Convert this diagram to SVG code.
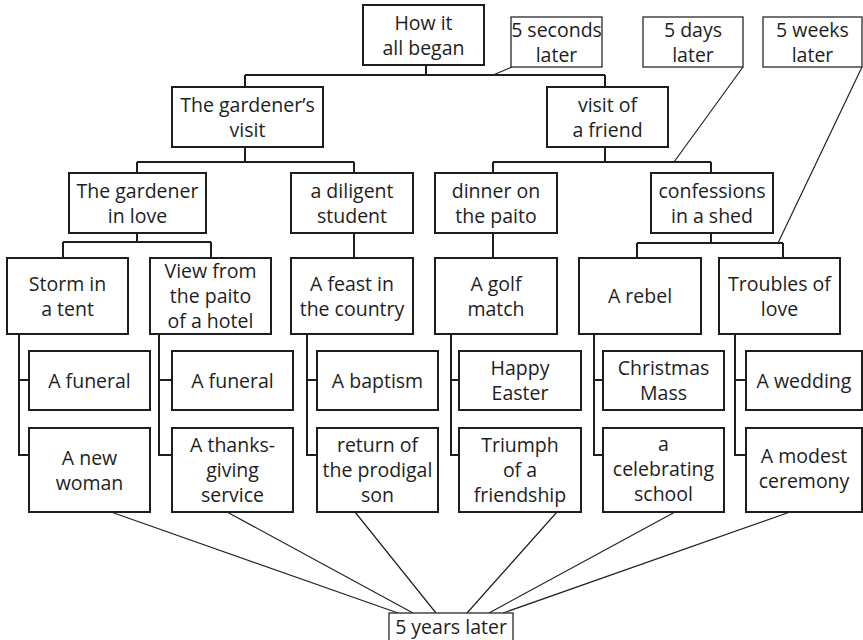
<svg xmlns="http://www.w3.org/2000/svg" width="863" height="640" viewBox="0 0 863 640">
  <style>
    .box { fill: #fff; stroke: #1e1e1e; stroke-width: 2; }
    .note { fill: #fff; stroke: #2a2a2a; stroke-width: 1.3; }
    .lbl { font-family: "Open Sans", "Noto Sans", sans-serif; font-size: 19.5px; fill: #1e1e1e; text-anchor: middle; }
    .tree { fill: none; stroke: #1e1e1e; stroke-width: 2; }
    .thin { fill: none; stroke: #222; stroke-width: 1.2; }
  </style>
  <rect width="863" height="640" fill="#fff"/>

  <!-- connectors -->
  <g id="connectors">
    <path class="tree" d="M426 65V75M245 75H605M245 75V87M605 75V87"/>
    <path class="tree" d="M245 147V162M137 162H354M137 162V173M354 162V173"/>
    <path class="tree" d="M605 147V162M493 162H711M493 162V173M711 162V173"/>
    <path class="tree" d="M137 233V242M63 242H211M63 242V258M211 242V258"/>
    <path class="tree" d="M354 233V258M493 233V258"/>
    <path class="tree" d="M711 233V243M637 243H783M637 243V258M783 243V258"/>
    <path class="tree" d="M19 334V455H29M19 380H29"/>
    <path class="tree" d="M159 334V455H172M159 380H172"/>
    <path class="tree" d="M307 334V455H317M307 380H317"/>
    <path class="tree" d="M451 334V455H459M451 380H459"/>
    <path class="tree" d="M594 334V455H603M594 380H603"/>
    <path class="tree" d="M735 334V455H746M735 380H746"/>
    <path class="thin" d="M512 67L493 75M743 67L674 162M862 67L778 243"/>
    <path class="thin" d="M111 512L398 613M227 512L413 613M355 512L436 613M557 512L467 613M675 512L489 613M790 512L503 613"/>
  </g>

  <!-- time notes -->
  <g id="n-5sec"><rect class="note" x="511" y="17" width="91" height="50"/>
    <text class="lbl" x="556.5" y="36.5">5 seconds</text><text class="lbl" x="556.5" y="61.5">later</text></g>
  <g id="n-5days"><rect class="note" x="643" y="17" width="100" height="50"/>
    <text class="lbl" x="693" y="36.5">5 days</text><text class="lbl" x="693" y="61.5">later</text></g>
  <g id="n-5weeks"><rect class="note" x="763" y="17" width="99" height="50"/>
    <text class="lbl" x="812.5" y="36.5">5 weeks</text><text class="lbl" x="812.5" y="61.5">later</text></g>
  <g id="n-5years"><rect class="note" x="389" y="613" width="124" height="40"/>
    <text class="lbl" x="451" y="634">5 years later</text></g>

  <!-- level 1 -->
  <g id="how"><rect class="box" x="363" y="5" width="121" height="60"/>
    <text class="lbl" x="423.5" y="29.5">How it</text><text class="lbl" x="423.5" y="54.5">all began</text></g>

  <!-- level 2 -->
  <g id="gvisit"><rect class="box" x="172" y="87" width="151" height="60"/>
    <text class="lbl" x="247.5" y="111.5">The gardener’s</text><text class="lbl" x="247.5" y="136.5">visit</text></g>
  <g id="friend"><rect class="box" x="547" y="87" width="121" height="60"/>
    <text class="lbl" x="607.5" y="111.5">visit of</text><text class="lbl" x="607.5" y="136.5">a friend</text></g>

  <!-- level 3 -->
  <g id="glove"><rect class="box" x="69" y="173" width="137" height="60"/>
    <text class="lbl" x="137.5" y="197.5">The gardener</text><text class="lbl" x="137.5" y="222.5">in love</text></g>
  <g id="student"><rect class="box" x="291" y="173" width="122" height="60"/>
    <text class="lbl" x="352" y="197.5">a diligent</text><text class="lbl" x="352" y="222.5">student</text></g>
  <g id="dinner"><rect class="box" x="435" y="173" width="122" height="60"/>
    <text class="lbl" x="496" y="197.5">dinner on</text><text class="lbl" x="496" y="222.5">the paito</text></g>
  <g id="shed"><rect class="box" x="651" y="173" width="122" height="60"/>
    <text class="lbl" x="712" y="197.5">confessions</text><text class="lbl" x="712" y="222.5">in a shed</text></g>

  <!-- level 4 -->
  <g id="storm"><rect class="box" x="7" y="258" width="121" height="76"/>
    <text class="lbl" x="67.5" y="290.5">Storm in</text><text class="lbl" x="67.5" y="315.5">a tent</text></g>
  <g id="view"><rect class="box" x="150" y="258" width="121" height="76"/>
    <text class="lbl" x="210.5" y="278">View from</text><text class="lbl" x="210.5" y="303">the paito</text><text class="lbl" x="210.5" y="328">of a hotel</text></g>
  <g id="feast"><rect class="box" x="291" y="258" width="122" height="76"/>
    <text class="lbl" x="352" y="290.5">A feast in</text><text class="lbl" x="352" y="315.5">the country</text></g>
  <g id="golf"><rect class="box" x="435" y="258" width="122" height="76"/>
    <text class="lbl" x="496" y="290.5">A golf</text><text class="lbl" x="496" y="315.5">match</text></g>
  <g id="rebel"><rect class="box" x="579" y="258" width="122" height="76"/>
    <text class="lbl" x="640" y="303">A rebel</text></g>
  <g id="troubles"><rect class="box" x="719" y="258" width="121" height="76"/>
    <text class="lbl" x="779.5" y="290.5">Troubles of</text><text class="lbl" x="779.5" y="315.5">love</text></g>

  <!-- level 5 -->
  <g id="funeral1"><rect class="box" x="29" y="351" width="121" height="59"/>
    <text class="lbl" x="89.5" y="387.5">A funeral</text></g>
  <g id="woman"><rect class="box" x="29" y="428" width="121" height="84"/>
    <text class="lbl" x="89.5" y="464.5">A new</text><text class="lbl" x="89.5" y="489.5">woman</text></g>
  <g id="funeral2"><rect class="box" x="172" y="351" width="121" height="59"/>
    <text class="lbl" x="232.5" y="387.5">A funeral</text></g>
  <g id="thanks"><rect class="box" x="172" y="428" width="121" height="84"/>
    <text class="lbl" x="232.5" y="452">A thanks-</text><text class="lbl" x="232.5" y="477">giving</text><text class="lbl" x="232.5" y="502">service</text></g>
  <g id="baptism"><rect class="box" x="317" y="351" width="121" height="59"/>
    <text class="lbl" x="377.5" y="387.5">A baptism</text></g>
  <g id="prodigal"><rect class="box" x="317" y="428" width="121" height="84"/>
    <text class="lbl" x="377.5" y="452">return of</text><text class="lbl" x="377.5" y="477">the prodigal</text><text class="lbl" x="377.5" y="502">son</text></g>
  <g id="easter"><rect class="box" x="459" y="351" width="122" height="59"/>
    <text class="lbl" x="520" y="375">Happy</text><text class="lbl" x="520" y="400">Easter</text></g>
  <g id="friendship"><rect class="box" x="459" y="428" width="122" height="84"/>
    <text class="lbl" x="520" y="452">Triumph</text><text class="lbl" x="520" y="477">of a</text><text class="lbl" x="520" y="502">friendship</text></g>
  <g id="mass"><rect class="box" x="603" y="351" width="121" height="59"/>
    <text class="lbl" x="663.5" y="375">Christmas</text><text class="lbl" x="663.5" y="400">Mass</text></g>
  <g id="school"><rect class="box" x="603" y="428" width="121" height="84"/>
    <text class="lbl" x="663.5" y="451">a</text><text class="lbl" x="663.5" y="476">celebrating</text><text class="lbl" x="663.5" y="501">school</text></g>
  <g id="wedding"><rect class="box" x="746" y="351" width="116" height="59"/>
    <text class="lbl" x="804" y="387.5">A wedding</text></g>
  <g id="ceremony"><rect class="box" x="746" y="428" width="116" height="84"/>
    <text class="lbl" x="804" y="463">A modest</text><text class="lbl" x="804" y="488">ceremony</text></g>
</svg>
